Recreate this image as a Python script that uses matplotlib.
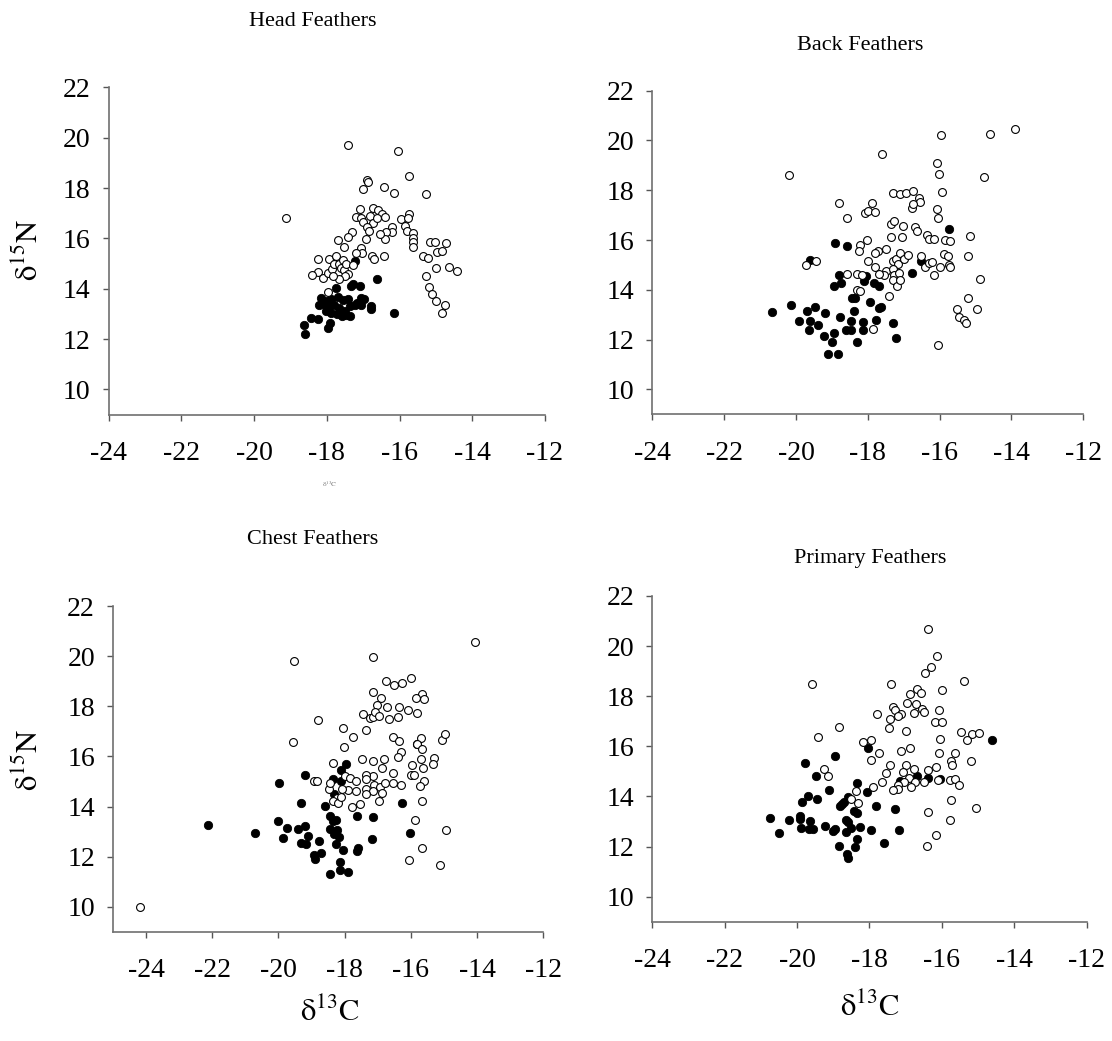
import numpy as np
import matplotlib
matplotlib.use('Agg')
from matplotlib import pyplot as plt

plt.rcParams['font.family'] = ['Liberation Serif', 'DejaVu Serif']
plt.rcParams['mathtext.fontset'] = 'stix'

titles = ['Head Feathers', 'Back Feathers', 'Chest Feathers', 'Primary Feathers']
xticks = [-24, -22, -20, -18, -16, -14, -12]
yticks = [10, 12, 14, 16, 18, 20, 22]

# head feathers
head_open_x = [-19.13, -17.41, -16.03, -15.75, -16.9, -16.88, -17.01, -16.44, -16.16, -15.26, -17.1, -16.74,
               -16.6, -16.48, -16.4, -17.19, -17.07, -16.82, -17.01, -16.74, -16.63, -16.9, -16.85, -15.95,
               -15.73, -15.77, -15.86, -15.79, -15.63, -15.62, -15.62, -15.62, -16.2, -16.2, -16.37, -16.41,
               -16.54, -16.93, -17.3, -17.43, -17.7, -17.54, -17.07, -17.04, -17.2, -16.76, -16.7, -16.42,
               -15.36, -15.23, -15.15, -15.02, -14.97, -14.84, -14.71, -15.01, -14.65, -14.42, -15.27, -15.19,
               -15.1, -15.0, -14.75, -14.82, -18.25, -17.93, -17.75, -18.24, -18.4, -18.1, -17.97, -17.87,
               -17.8, -17.66, -17.56, -17.61, -17.53, -17.47, -17.41, -17.5, -17.66, -17.83, -17.29, -17.98]
head_open_y = [16.8, 19.72, 19.49, 18.49, 18.33, 18.25, 17.97, 18.03, 17.82, 17.77, 17.15, 17.2,
               17.12, 16.97, 16.86, 16.83, 16.8, 16.9, 16.65, 16.62, 16.8, 16.45, 16.3, 16.75,
               16.95, 16.8, 16.5, 16.3, 16.22, 16.02, 15.85, 15.66, 16.47, 16.27, 16.27, 15.98,
               16.19, 15.98, 16.27, 16.04, 15.95, 15.64, 15.6, 15.43, 15.41, 15.28, 15.17, 15.31,
               15.29, 15.23, 15.85, 15.85, 15.47, 15.49, 15.81, 14.81, 14.87, 14.7, 14.52, 14.05,
               13.8, 13.51, 13.36, 13.04, 15.19, 15.16, 15.29, 14.65, 14.53, 14.44, 14.62, 14.79,
               15.0, 14.97, 15.13, 14.82, 14.76, 14.97, 14.59, 14.49, 14.4, 14.49, 14.93, 13.86]
head_fill_x = [-17.23, -17.75, -17.33, -17.29, -17.09, -16.61, -18.15, -18.03, -17.88, -17.69, -17.56, -17.42,
               -18.22, -18.07, -17.95, -17.81, -17.66, -17.51, -17.35, -17.22, -17.07, -16.99, -17.05, -16.78,
               -16.78, -18.02, -17.88, -17.71, -17.58, -17.48, -17.37, -17.17, -18.43, -18.24, -18.62, -18.59,
               -17.97, -17.9, -16.16]
head_fill_y = [15.09, 14.03, 14.09, 14.18, 14.09, 14.38, 13.64, 13.53, 13.59, 13.67, 13.57, 13.6,
               13.35, 13.41, 13.3, 13.35, 13.22, 13.12, 13.3, 13.35, 13.64, 13.59, 13.35, 13.18,
               13.33, 13.12, 13.04, 13.0, 12.92, 12.97, 12.91, 13.45, 12.84, 12.78, 12.54, 12.19,
               12.45, 12.62, 13.03]

# back feathers
back_open_x = [-20.19, -17.61, -15.97, -14.61, -13.89, -16.07, -16.01, -15.94, -14.76, -18.8, -17.89, -17.31,
               -17.09, -16.94, -16.74, -16.57, -16.56, -16.78, -16.75, -16.07, -16.05, -18.58, -18.07, -18.0,
               -17.79, -17.35, -17.27, -17.01, -16.68, -16.64, -17.05, -17.35, -16.35, -16.31, -16.15, -15.84,
               -15.72, -15.15, -15.22, -15.22, -14.95, -14.87, -15.52, -15.46, -15.32, -15.26, -16.05, -17.85,
               -18.01, -18.21, -18.25, -17.72, -17.81, -17.48, -18.0, -17.79, -17.5, -17.54, -17.69, -18.58,
               -18.29, -18.17, -18.29, -18.22, -17.4, -17.31, -17.21, -17.11, -17.17, -17.31, -17.27, -17.12,
               -17.31, -17.2, -17.11, -16.99, -16.88, -16.52, -16.4, -16.31, -16.22, -16.15, -16.0, -15.88,
               -15.78, -15.74, -15.7, -19.72, -19.45]
back_open_y = [18.61, 19.44, 20.2, 20.26, 20.45, 19.09, 18.64, 17.93, 18.52, 17.49, 17.49, 17.87,
               17.83, 17.89, 17.98, 17.69, 17.51, 17.3, 17.44, 17.26, 16.88, 16.9, 17.08, 17.16,
               17.11, 16.66, 16.76, 16.58, 16.51, 16.36, 16.13, 16.12, 16.21, 16.05, 16.04, 15.99,
               15.96, 16.17, 15.37, 13.68, 13.24, 14.43, 13.23, 12.91, 12.8, 12.68, 11.78, 12.42,
               15.99, 15.79, 15.58, 15.56, 15.48, 15.64, 15.14, 14.92, 14.75, 14.59, 14.65, 14.65,
               14.65, 14.59, 14.0, 13.94, 13.74, 15.14, 15.25, 15.49, 15.02, 14.85, 14.59, 14.67,
               14.38, 14.15, 14.38, 15.22, 15.4, 15.34, 14.9, 15.08, 15.13, 14.58, 14.92, 15.45,
               15.36, 14.98, 14.92, 15.0, 15.14]
back_fill_x = [-20.67, -20.14, -19.7, -19.47, -19.91, -19.61, -19.63, -19.38, -19.2, -19.23, -18.95, -19.0,
               -19.11, -18.84, -18.78, -18.61, -18.48, -18.48, -18.39, -18.29, -18.13, -18.12, -17.76, -17.29,
               -17.21, -17.95, -17.7, -17.63, -18.44, -18.36, -18.93, -18.76, -18.8, -18.91, -18.57, -19.6,
               -18.1, -17.84, -17.69, -18.05, -16.76, -16.52, -15.75]
back_fill_y = [13.09, 13.4, 13.15, 13.33, 12.75, 12.75, 12.38, 12.57, 13.06, 12.13, 12.28, 11.9,
               11.42, 11.43, 12.89, 12.37, 12.38, 12.75, 13.13, 11.89, 12.71, 12.4, 12.8, 12.68,
               12.06, 13.52, 13.29, 13.3, 13.68, 13.68, 14.14, 14.26, 14.61, 15.88, 15.75, 15.18,
               14.34, 14.29, 14.15, 14.55, 14.66, 15.14, 16.44]

# chest feathers
chest_open_x = [-24.17, -19.52, -19.56, -18.82, -17.15, -14.06, -16.74, -16.52, -16.28, -16.0, -15.67, -15.85,
                -15.6, -17.16, -16.9, -17.02, -16.72, -16.35, -16.1, -15.82, -17.45, -17.24, -17.15, -17.07,
                -16.97, -16.66, -16.4, -17.36, -18.05, -17.74, -18.02, -16.54, -16.35, -16.3, -16.4, -15.71,
                -15.82, -15.65, -15.05, -14.96, -15.31, -15.32, -15.71, -15.96, -15.63, -16.01, -15.91, -15.59,
                -15.74, -15.65, -15.88, -14.94, -15.66, -16.05, -15.13, -16.54, -16.54, -16.31, -16.8, -16.87,
                -17.15, -17.49, -17.14, -17.36, -17.37, -17.12, -17.37, -17.15, -17.37, -16.92, -16.88, -16.78,
                -16.96, -17.54, -17.79, -18.35, -17.99, -17.83, -17.67, -17.66, -17.9, -18.08, -18.47, -18.43,
                -18.23, -18.35, -18.21, -18.11, -18.92, -18.84]
chest_open_y = [9.99, 19.82, 16.57, 17.47, 19.97, 20.58, 19.0, 18.86, 18.92, 19.14, 18.5, 18.34,
                18.3, 18.56, 18.34, 18.06, 17.98, 17.97, 17.84, 17.74, 17.7, 17.52, 17.58, 17.78,
                17.62, 17.48, 17.58, 17.07, 17.12, 16.79, 16.39, 16.79, 16.63, 16.19, 15.96, 16.72,
                16.49, 16.29, 16.65, 16.88, 15.93, 15.68, 15.88, 15.65, 15.53, 15.25, 15.27, 15.01,
                14.84, 14.24, 13.47, 13.08, 12.34, 11.86, 11.67, 15.33, 14.93, 14.85, 15.88, 15.55,
                15.81, 15.88, 15.21, 15.25, 15.09, 14.88, 14.72, 14.64, 14.52, 14.79, 14.55, 14.95,
                14.23, 14.1, 13.99, 15.72, 15.21, 15.12, 15.01, 14.61, 14.68, 14.71, 14.71, 14.96,
                14.36, 14.24, 14.16, 14.39, 15.03, 15.03]
chest_fill_x = [-22.12, -20.71, -19.99, -20.0, -19.85, -19.75, -19.42, -19.33, -19.21, -19.19, -19.32, -19.16,
                -19.11, -18.94, -18.89, -18.77, -18.71, -18.59, -18.45, -18.45, -18.45, -18.34, -18.25, -18.33,
                -18.23, -18.26, -18.16, -18.15, -18.15, -18.06, -17.89, -18.34, -18.33, -18.11, -17.95, -18.11,
                -17.62, -17.59, -17.62, -17.16, -17.17, -16.27, -16.03, -15.82]
chest_fill_y = [13.28, 12.94, 14.95, 13.43, 12.74, 13.15, 13.1, 14.16, 15.27, 13.23, 12.55, 12.5,
                12.84, 12.08, 11.92, 12.62, 12.15, 14.03, 13.64, 13.11, 11.32, 13.44, 13.47, 12.9,
                13.06, 12.5, 12.79, 11.79, 11.47, 12.27, 11.37, 15.09, 14.52, 15.45, 15.71, 15.01,
                13.62, 12.36, 12.23, 13.59, 12.72, 14.15, 12.95, 16.51]

# primary feathers
prim_open_x = [-16.37, -16.14, -16.31, -16.46, -17.41, -15.39, -19.59, -16.69, -16.58, -16.88, -16.0, -16.95,
               -16.71, -17.36, -17.3, -17.13, -17.22, -16.78, -16.55, -16.49, -16.09, -17.8, -17.44, -17.47,
               -16.19, -16.01, -16.99, -18.83, -19.42, -18.17, -17.96, -16.06, -15.46, -15.16, -14.97, -15.3,
               -17.75, -17.13, -16.88, -16.09, -15.65, -15.2, -15.75, -15.72, -17.95, -17.43, -17.55, -16.98,
               -17.08, -16.78, -16.92, -16.74, -16.86, -17.04, -17.2, -17.22, -17.36, -17.66, -17.9, -16.37,
               -16.16, -16.49, -16.12, -15.77, -15.65, -15.53, -15.75, -15.77, -15.07, -16.37, -16.16, -16.4,
               -19.25, -19.14, -18.37, -18.52, -18.33]
prim_open_y = [20.7, 19.62, 19.15, 18.94, 18.5, 18.6, 18.5, 18.29, 18.12, 18.07, 18.23, 17.72,
               17.7, 17.55, 17.44, 17.3, 17.21, 17.31, 17.48, 17.35, 17.46, 17.27, 17.07, 16.72,
               16.97, 16.97, 16.61, 16.77, 16.38, 16.19, 16.24, 16.29, 16.58, 16.48, 16.52, 16.24,
               15.74, 15.8, 15.92, 15.72, 15.74, 15.43, 15.42, 15.26, 15.46, 15.26, 14.95, 15.25,
               14.97, 15.09, 14.75, 14.58, 14.36, 14.56, 14.45, 14.29, 14.25, 14.58, 14.36, 15.06,
               15.19, 14.58, 14.65, 14.65, 14.68, 14.45, 13.85, 13.06, 13.52, 13.36, 12.45, 12.03,
               15.09, 14.81, 14.2, 13.89, 13.74]
prim_fill_x = [-20.74, -20.5, -20.22, -19.93, -19.91, -19.88, -19.86, -19.78, -19.69, -19.64, -19.68, -19.57,
               -19.49, -19.45, -19.23, -19.13, -19.01, -18.94, -18.94, -18.84, -18.81, -18.75, -18.71, -18.64,
               -18.6, -18.63, -18.58, -18.64, -18.52, -18.58, -18.44, -18.35, -18.4, -18.35, -18.35, -18.25,
               -18.07, -18.05, -17.96, -17.82, -17.59, -17.29, -17.18, -17.17, -16.69, -16.37, -16.05, -14.62]
prim_fill_y = [13.15, 12.53, 13.07, 13.23, 13.1, 12.74, 13.76, 15.32, 14.01, 13.0, 12.68, 12.68,
               14.82, 13.88, 12.83, 14.27, 12.61, 12.68, 15.63, 12.04, 13.63, 13.71, 13.77, 13.06,
               12.99, 11.7, 11.56, 12.57, 12.74, 13.96, 13.43, 13.35, 11.97, 12.32, 14.54, 12.77,
               14.19, 15.93, 12.66, 13.63, 12.16, 13.48, 12.64, 14.62, 14.82, 14.72, 14.69, 16.26]

panels = [(head_open_x, head_open_y, head_fill_x, head_fill_y),
          (back_open_x, back_open_y, back_fill_x, back_fill_y),
          (chest_open_x, chest_open_y, chest_fill_x, chest_fill_y),
          (prim_open_x, prim_open_y, prim_fill_x, prim_fill_y)]

# axes boxes in figure fractions
boxes = [[0.0977, 0.6018, 0.3924, 0.3143],
         [0.5866, 0.6020, 0.3876, 0.3109],
         [0.1016, 0.1050, 0.3870, 0.3126],
         [0.5866, 0.1146, 0.3906, 0.3129]]
xlims = [(-24, -12), (-24, -12), (-25, -12), (-24, -12)]

fig = plt.figure(figsize=(11.12, 10.41), dpi=100)

for i in range(4):
    ox, oy, fx, fy = panels[i]
    ax = fig.add_axes(boxes[i])
    ax.scatter(fx, fy, s=36, c='black', edgecolors='black', linewidths=0.6, zorder=2)
    ax.scatter(ox, oy, s=32, facecolors='white', edgecolors='black', linewidths=0.8, zorder=3)
    ax.set_xlim(xlims[i])
    ax.set_ylim(9, 22)
    ax.set_xticks(xticks)
    ax.set_yticks(yticks)
    ax.set_xticklabels([str(t) for t in xticks])
    ax.set_yticklabels([str(t) for t in yticks])
    for s in ['top', 'right']:
        ax.spines[s].set_visible(False)
    for s in ['left', 'bottom']:
        ax.spines[s].set_color('#707070')
        ax.spines[s].set_linewidth(1.2)
    ax.tick_params(direction='out', length=4, width=1, color='#555555', labelsize=20)
    ax.tick_params(axis='x', pad=15)
    ax.tick_params(axis='y', pad=9)

# titles
fig.text(313 / 1112, 1 - 22 / 1041, titles[0], ha='center', va='center', fontsize=16)
fig.text(860 / 1112, 1 - 46 / 1041, titles[1], ha='center', va='center', fontsize=16)
fig.text(313 / 1112, 1 - 540 / 1041, titles[2], ha='center', va='center', fontsize=16)
fig.text(870 / 1112, 1 - 558 / 1041, titles[3], ha='center', va='center', fontsize=16)

# axis labels
ylab = r'$\mathrm{\delta}^{15}\mathrm{N}$'
xlab = r'$\mathrm{\delta}^{13}\mathrm{C}$'
fig.text(30 / 1112, 1 - 250 / 1041, ylab, rotation=90, ha='center', va='center', fontsize=22)
fig.text(30 / 1112, 1 - 760 / 1041, ylab, rotation=90, ha='center', va='center', fontsize=22)
fig.text(330 / 1112, 1 - 1013 / 1041, xlab, ha='center', va='center', fontsize=22)
fig.text(870 / 1112, 1 - 1008 / 1041, xlab, ha='center', va='center', fontsize=22)
fig.text(330 / 1112, 1 - 484 / 1041, xlab, ha='center', va='center', fontsize=5, color='#777777')

fig.savefig('out.png', dpi=100)
